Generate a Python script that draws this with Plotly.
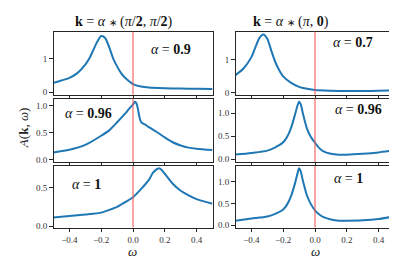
import plotly.graph_objects as go

# ---------------- data ----------------
w_p1 = [-0.5, -0.45, -0.4, -0.35, -0.3, -0.275, -0.25, -0.225, -0.2, -0.175, -0.15, -0.125,
        -0.1, -0.075, -0.05, -0.025, 0.0, 0.05, 0.1, 0.2, 0.3, 0.4, 0.5]
A_p1 = [0.28, 0.35, 0.43, 0.57, 0.82, 1.0, 1.25, 1.50, 1.67, 1.61, 1.34, 1.01,
        0.77, 0.57, 0.43, 0.33, 0.24, 0.17, 0.14, 0.12, 0.11, 0.105, 0.10]

w_p2 = [-0.5, -0.4, -0.3, -0.2, -0.15, -0.1, -0.05, -0.025, 0.0, 0.012, 0.022, 0.032, 0.042,
        0.052, 0.075, 0.1, 0.15, 0.2, 0.25, 0.3, 0.35, 0.4, 0.5]
A_p2 = [0.13, 0.18, 0.27, 0.44, 0.54, 0.69, 0.85, 0.94, 1.02, 1.07, 1.04, 0.92, 0.77,
        0.69, 0.65, 0.60, 0.51, 0.41, 0.32, 0.26, 0.22, 0.20, 0.175]

w_p3 = [-0.5, -0.4, -0.3, -0.2, -0.15, -0.1, -0.05, 0.0, 0.05, 0.1, 0.125, 0.15, 0.16,
        0.175, 0.2, 0.25, 0.3, 0.35, 0.4, 0.5]
A_p3 = [0.11, 0.13, 0.15, 0.175, 0.21, 0.25, 0.31, 0.375, 0.48, 0.60, 0.69, 0.74, 0.75,
        0.74, 0.68, 0.55, 0.46, 0.40, 0.35, 0.29]

w_p4 = [-0.5, -0.45, -0.4, -0.375, -0.35, -0.325, -0.3, -0.275, -0.25, -0.225, -0.2, -0.15,
        -0.1, -0.05, 0.0, 0.1, 0.2, 0.3, 0.4, 0.5]
A_p4 = [0.53, 0.73, 1.08, 1.38, 1.66, 1.77, 1.64, 1.28, 0.93, 0.68, 0.49, 0.29,
        0.17, 0.11, 0.07, 0.05, 0.04, 0.04, 0.05, 0.06]

w_p5 = [-0.5, -0.4, -0.3, -0.25, -0.2, -0.175, -0.15, -0.125, -0.11, -0.1, -0.09, -0.075,
        -0.05, -0.025, 0.0, 0.025, 0.05, 0.1, 0.15, 0.2, 0.3, 0.4, 0.5]
A_p5 = [0.105, 0.14, 0.19, 0.26, 0.37, 0.49, 0.69, 0.98, 1.17, 1.25, 1.20, 0.98,
        0.66, 0.48, 0.36, 0.25, 0.18, 0.12, 0.10, 0.10, 0.12, 0.15, 0.195]

w_p6 = [-0.5, -0.4, -0.3, -0.25, -0.2, -0.175, -0.15, -0.125, -0.11, -0.1, -0.09, -0.075,
        -0.05, -0.025, 0.0, 0.025, 0.05, 0.1, 0.15, 0.2, 0.3, 0.4, 0.5]
A_p6 = [0.10, 0.15, 0.20, 0.26, 0.36, 0.48, 0.68, 0.98, 1.20, 1.32, 1.25, 1.01,
        0.68, 0.48, 0.34, 0.25, 0.19, 0.13, 0.10, 0.10, 0.11, 0.14, 0.20]

STAR = "<span style='font-size:10px'>∗</span>"
col_titles = [f"<b>k</b> = <i>α</i> {STAR} (<i>π</i>/<b>2</b>, <i>π</i>/<b>2</b>)",
              f"<b>k</b> = <i>α</i> {STAR} (<i>π</i>, <b>0</b>)"]
alpha_labels = ["0.9", "0.96", "1", "0.7", "0.96", "1"]
x_ticks = [-0.4, -0.2, 0.0, 0.2, 0.4]
x_ticktext = ["−0.4", "−0.2", "0.0", "0.2", "0.4"]

panels = [
    (w_p1, A_p1, [-0.07, 1.80], [0, 1], ["0", "1"]),
    (w_p2, A_p2, [-0.04, 1.13], [0, 0.5, 1.0], ["0.0", "0.5", "1.0"]),
    (w_p3, A_p3, [-0.02, 0.78], [0, 0.5], ["0.0", "0.5"]),
    (w_p4, A_p4, [-0.07, 1.86], [0, 1], ["0", "1"]),
    (w_p5, A_p5, [-0.05, 1.32], [0, 0.5, 1.0], ["0.0", "0.5", "1.0"]),
    (w_p6, A_p6, [-0.06, 1.37], [0, 0.5, 1.0], ["0.0", "0.5", "1.0"]),
]

# ---------------- layout geometry (pixels) ----------------
W, H = 397, 264
col_px = [(45.5, 204.5), (227.5, 386.5)]
row_px = [(24, 88), (92, 156), (160.5, 223)]
label_px = [(163, 42), (80, 107), (78.5, 179), (345, 35), (350, 103), (340, 173)]

FONT = "Liberation Serif"
AXC = "#262626"

fig = go.Figure()
layout = dict(width=W, height=H, margin=dict(l=0, r=0, t=0, b=0),
              paper_bgcolor="white", plot_bgcolor="white", showlegend=False,
              font=dict(family=FONT, size=9, color="#333"))
shapes, annotations = [], []

for i, (w, A, yr, yt, ytt) in enumerate(panels):
    c, r = i // 3, i % 3
    n = i + 1
    xname = "xaxis" if n == 1 else f"xaxis{n}"
    yname = "yaxis" if n == 1 else f"yaxis{n}"
    xref = "x" if n == 1 else f"x{n}"
    yref = "y" if n == 1 else f"y{n}"
    x0, x1 = col_px[c]
    y0, y1 = row_px[r]
    layout[xname] = dict(domain=[x0 / W, x1 / W], anchor=yref, range=[-0.5, 0.5],
                         tickvals=x_ticks, ticktext=x_ticktext if r == 2 else [""] * 5,
                         ticks="outside", ticklen=3.5, tickwidth=0.8, tickcolor=AXC,
                         showline=True, mirror=True, linecolor=AXC, linewidth=1,
                         showgrid=False, zeroline=False,
                         tickfont=dict(family=FONT, size=9, color="#333"))
    layout[yname] = dict(domain=[1 - y1 / H, 1 - y0 / H], anchor=xref, range=yr,
                         tickvals=yt, ticktext=ytt,
                         ticks="outside", ticklen=3.5, tickwidth=0.8, tickcolor=AXC,
                         showline=True, mirror=True, linecolor=AXC, linewidth=1,
                         showgrid=False, zeroline=False,
                         tickfont=dict(family=FONT, size=9, color="#333"))
    fig.add_trace(go.Scatter(x=w, y=A, mode="lines", xaxis=xref, yaxis=yref,
                             line=dict(color="#1f77b4", width=2, shape="spline",
                                       smoothing=0.7)))
    shapes.append(dict(type="line", xref=xref, yref=f"{yref} domain", x0=0, x1=0,
                       y0=0, y1=1, line=dict(color="rgba(240,90,90,0.85)", width=1.3),
                       layer="above"))
    lx, ly = label_px[i]
    annotations.append(dict(x=lx / W, y=1 - ly / H, xref="paper", yref="paper",
                            text=f"<i>α</i> = <b>{alpha_labels[i]}</b>",
                            showarrow=False, xanchor="center", yanchor="middle",
                            font=dict(family=FONT, size=14, color="#111")))

# column titles
for tx, text in zip([116, 283], col_titles):
    annotations.append(dict(x=tx / W, y=1 - 14 / H, xref="paper", yref="paper",
                            text=text, showarrow=False, xanchor="center",
                            yanchor="middle",
                            font=dict(family=FONT, size=14, color="#111")))
# x-axis titles
for tx in [125, 307]:
    annotations.append(dict(x=tx / W, y=1 - 247 / H, xref="paper", yref="paper",
                            text="<i>ω</i>", showarrow=False, xanchor="center",
                            yanchor="middle",
                            font=dict(family=FONT, size=13, color="#222")))
# y-axis title
annotations.append(dict(x=15 / W, y=1 - 122 / H, xref="paper", yref="paper",
                        text="<i>A</i>(<b>k</b>, <i>ω</i>)", textangle=-90,
                        showarrow=False, xanchor="center", yanchor="middle",
                        font=dict(family=FONT, size=13, color="#222")))

layout["shapes"] = shapes
layout["annotations"] = annotations
fig.update_layout(**layout)
fig.write_html("out.html")
